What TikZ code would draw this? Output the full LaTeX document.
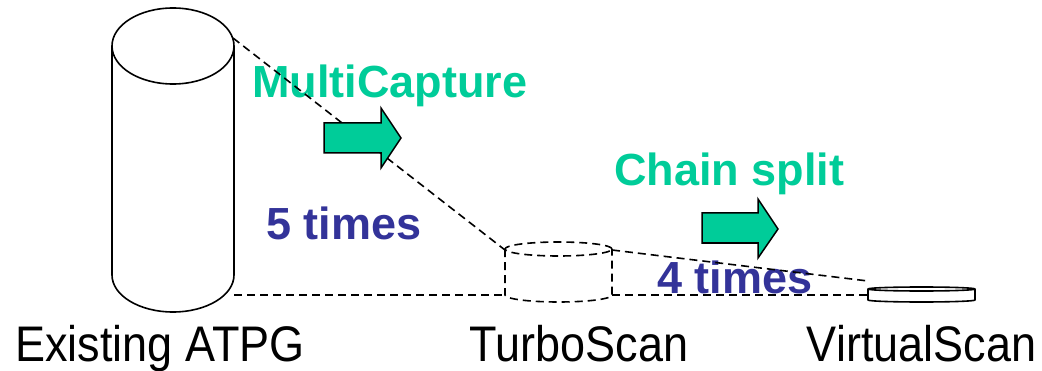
\documentclass[tikz,border=0pt]{standalone}
\usepackage{fontspec}
\setmainfont{Liberation Sans}
\definecolor{mgreen}{RGB}{0,204,153}
\definecolor{mnavy}{RGB}{51,51,153}
\begin{document}
\begin{tikzpicture}[x=1pt,y=1pt,
  solidline/.style={line width=1.6pt, line join=round},
  dashline/.style={line width=1.6pt, dash pattern=on 8pt off 5pt},
  bigarrow/.style={fill=mgreen, draw=black, line width=1.5pt, line join=miter},
  greenlbl/.style={text=mgreen, font=\fontsize{45}{50}\selectfont\bfseries, inner sep=0pt, anchor=base west},
  navylbl/.style={text=mnavy, font=\fontsize{45}{50}\selectfont\bfseries, inner sep=0pt, anchor=base west},
  caplbl/.style={text=black, font=\fontsize{50}{54}\selectfont, inner sep=0pt, anchor=base, xscale=0.9}]
\useasboundingbox[fill=white] (0,0) rectangle (1042,370);

% text labels
\node[greenlbl] (mc) at (252,272) {MultiCapture};
\node[greenlbl] (cs) at (614,184) {Chain split};
\node[navylbl] (five) at (266,130) {5 times};
\node[navylbl] (four) at (657,77) {4 times};
\node[caplbl] (ea) at (160,9) {Existing ATPG};
\node[caplbl] (ts) at (579,9) {TurboScan};
\node[caplbl] (vs) at (921.5,9) {VirtualScan};

% key points
\coordinate (bigTR) at (233,332);
\coordinate (bigBR) at (234,75);
\coordinate (tsTL) at (505,120);
\coordinate (tsBL) at (505,75);
\coordinate (tsTR) at (612,120);
\coordinate (tsBR) at (612,75);
\coordinate (vsTL) at (868,89);
\coordinate (vsML) at (868,75);

% big cylinder
\draw[solidline] (173,324) ellipse[x radius=61, y radius=38];
\draw[solidline] (112,324) -- (112,95) arc[start angle=180, end angle=360, x radius=61, y radius=37] -- (234,324);

% TurboScan cylinder (dashed)
\draw[dashline] (558.5,121) ellipse[x radius=53.5, y radius=7];
\draw[dashline] (505,121) -- (505,75) arc[start angle=180, end angle=360, x radius=53.5, y radius=7] -- (612,121);

% VirtualScan disc
\draw[solidline] (921.5,81) ellipse[x radius=53.5, y radius=2];
\draw[solidline] (868,81) -- (868,70) arc[start angle=180, end angle=360, x radius=53.5, y radius=2] -- (975,81);

% connecting dashed lines
\draw[dashline] (bigTR) -- (tsTL);
\draw[dashline] (bigBR) -- (tsBL);
\draw[dashline] (tsTR) -- (vsTL);
\draw[dashline] (tsBR) -- (vsML);

% arrows
\draw[bigarrow] (324,247) -- (381,247) -- (381,262) -- (401,232) -- (381,202) -- (381,217) -- (324,217) -- cycle;
\draw[bigarrow] (702,157) -- (758,157) -- (758,171) -- (778,141) -- (758,112) -- (758,127) -- (702,127) -- cycle;
\end{tikzpicture}
\end{document}
